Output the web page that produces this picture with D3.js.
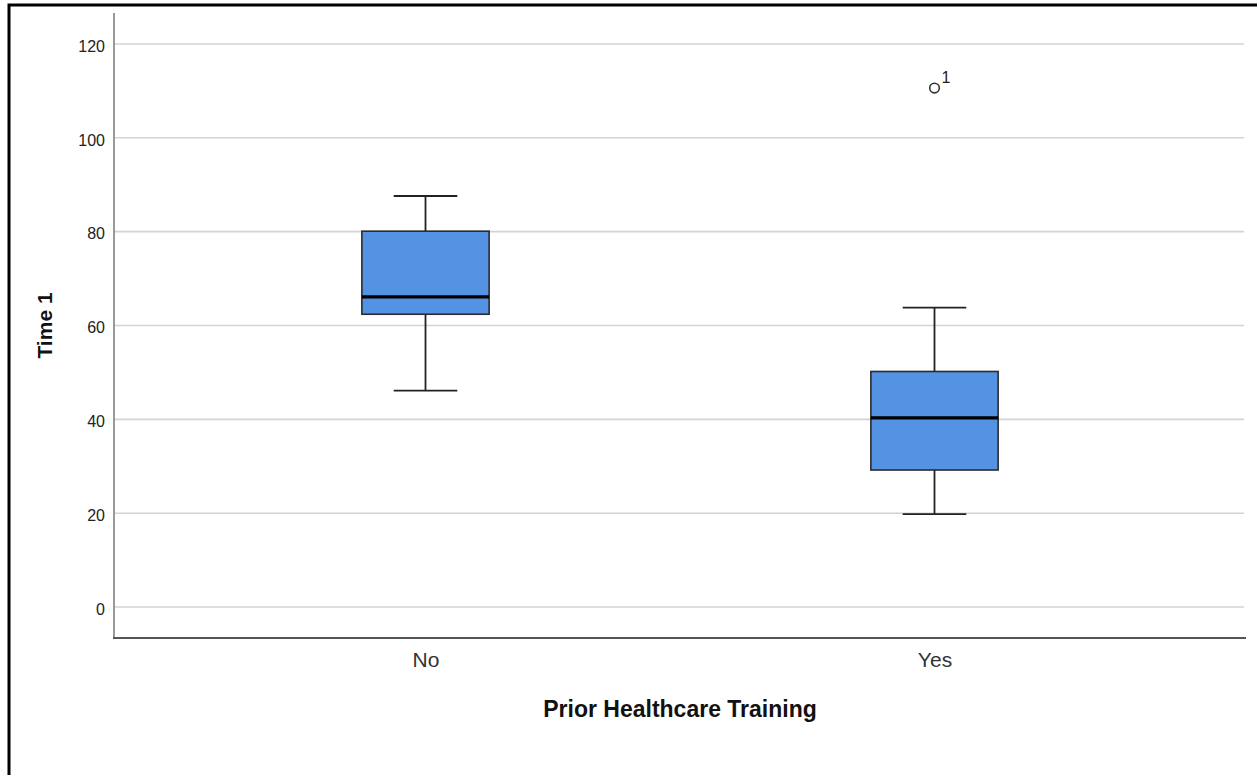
<!DOCTYPE html>
<meta charset="utf-8">
<style>
body { margin: 0; background: #fff; }
text { font-family: "Liberation Sans", Arial, sans-serif; }
</style>
<body>
<script src="https://d3js.org/d3.v7.min.js"></script>
<script>

var width = 1257,
    height = 775;

// box statistics
var groups = ["No", "Yes"];
var whiskerLow = [46.1, 19.8];
var q1 = [62.4, 29.2];
var median = [66.1, 40.3];
var q3 = [80.1, 50.2];
var whiskerHigh = [87.6, 63.8];
var outlierGroup = ["Yes"];
var outlierValue = [110.6];
var outlierLabel = ["1"];
var yTicks = [0, 20, 40, 60, 80, 100, 120];

var margin = {left: 114, right: 11, top: 13, bottom: 137};

var svg = d3.select("body").append("svg")
    .attr("width", width)
    .attr("height", height);

// frame
svg.append("rect")
    .attr("x", 9).attr("y", 5)
    .attr("width", width + 10).attr("height", height + 10)
    .attr("fill", "none")
    .attr("stroke", "#000")
    .attr("stroke-width", 3);

var x = d3.scalePoint()
    .domain(groups)
    .range([margin.left, width - margin.right])
    .padding(0.612);

var y = d3.scaleLinear()
    .domain([-6.6, 126.6])
    .range([height - margin.bottom, margin.top]);

var boxW = x.step() * 0.25;

// gridlines
svg.append("g").selectAll("line")
    .data(yTicks)
    .enter().append("line")
    .attr("x1", margin.left).attr("x2", width - 13)
    .attr("y1", function(d) { return y(d); })
    .attr("y2", function(d) { return y(d); })
    .attr("stroke", "#d3d3d3")
    .attr("stroke-width", 1.6);

// y axis
var yAxis = svg.append("g")
    .attr("transform", "translate(" + margin.left + ",0)")
    .call(d3.axisLeft(y).tickValues(yTicks).tickSize(0).tickPadding(9));
yAxis.select(".domain").remove();
yAxis.selectAll("text")
    .attr("font-size", 16)
    .attr("fill", "#222")
    .attr("dy", "0.45em");
svg.append("line")
    .attr("x1", margin.left).attr("x2", margin.left)
    .attr("y1", margin.top).attr("y2", height - margin.bottom)
    .attr("stroke", "#999").attr("stroke-width", 2);

// x axis
var xAxis = svg.append("g")
    .attr("transform", "translate(0," + (height - margin.bottom) + ")")
    .call(d3.axisBottom(x).tickSize(0).tickPadding(14));
xAxis.select(".domain").remove();
xAxis.selectAll("text")
    .attr("font-size", 21)
    .attr("fill", "#333");
svg.append("line")
    .attr("x1", margin.left - 1).attr("x2", width - 11)
    .attr("y1", height - margin.bottom).attr("y2", height - margin.bottom)
    .attr("stroke", "#555").attr("stroke-width", 2);

// boxes
var stats = groups.map(function(g, i) {
  return {g: g, lo: whiskerLow[i], q1: q1[i], med: median[i], q3: q3[i], hi: whiskerHigh[i]};
});

var box = svg.append("g").selectAll("g")
    .data(stats)
    .enter().append("g")
    .attr("transform", function(d) { return "translate(" + x(d.g) + ",0)"; });

box.append("line")
    .attr("x1", 0).attr("x2", 0)
    .attr("y1", function(d) { return y(d.lo); })
    .attr("y2", function(d) { return y(d.hi); })
    .attr("stroke", "#222").attr("stroke-width", 1.8);

box.selectAll(".cap")
    .data(function(d) { return [d.lo, d.hi]; })
    .enter().append("line")
    .attr("x1", -boxW / 4).attr("x2", boxW / 4)
    .attr("y1", function(v) { return y(v); })
    .attr("y2", function(v) { return y(v); })
    .attr("stroke", "#222").attr("stroke-width", 1.8);

box.append("rect")
    .attr("x", -boxW / 2)
    .attr("width", boxW)
    .attr("y", function(d) { return y(d.q3); })
    .attr("height", function(d) { return y(d.q1) - y(d.q3); })
    .attr("fill", "#5492e3")
    .attr("stroke", "#2b2b2b")
    .attr("stroke-width", 1.6);

box.append("line")
    .attr("x1", -boxW / 2).attr("x2", boxW / 2)
    .attr("y1", function(d) { return y(d.med); })
    .attr("y2", function(d) { return y(d.med); })
    .attr("stroke", "#000").attr("stroke-width", 3.2);

// outliers
var out = svg.append("g").selectAll("g")
    .data(outlierValue)
    .enter().append("g")
    .attr("transform", function(d, i) { return "translate(" + x(outlierGroup[i]) + "," + y(d) + ")"; });
out.append("circle")
    .attr("r", 4.8)
    .attr("fill", "none")
    .attr("stroke", "#333")
    .attr("stroke-width", 1.6);
out.append("text")
    .attr("x", 7).attr("y", -5)
    .attr("font-size", 16)
    .attr("fill", "#222")
    .text(function(d, i) { return outlierLabel[i]; });

// axis titles
svg.append("text")
    .attr("x", (margin.left + width - margin.right) / 2)
    .attr("y", 717)
    .attr("text-anchor", "middle")
    .attr("font-size", 23)
    .attr("font-weight", "bold")
    .attr("fill", "#111")
    .text("Prior Healthcare Training");

svg.append("text")
    .attr("transform", "translate(52," + ((margin.top + height - margin.bottom) / 2) + ") rotate(-90)")
    .attr("text-anchor", "middle")
    .attr("font-size", 21)
    .attr("font-weight", "bold")
    .attr("fill", "#111")
    .text("Time 1");

</script>
</body>
